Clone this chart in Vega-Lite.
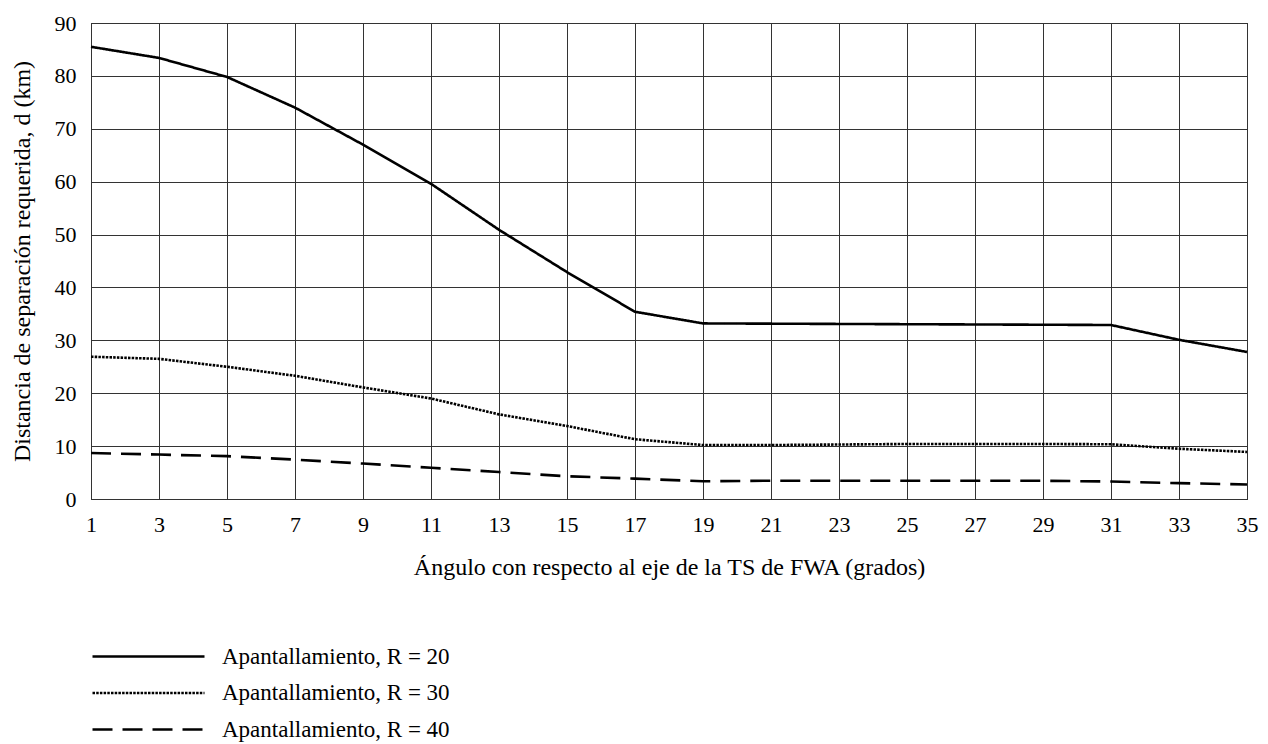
{
  "$schema": "https://vega.github.io/schema/vega-lite/v6.json",
  "width": 1156,
  "height": 476,
  "autosize": {"type": "none"},
  "padding": {"left": 91, "top": 23, "right": 21, "bottom": 245},
  "background": "white",
  "config": {
    "font": "Liberation Serif",
    "view": {"stroke": "#000", "strokeWidth": 1},
    "axis": {
      "domain": false,
      "ticks": false,
      "tickSize": 0,
      "grid": true,
      "gridColor": "#333",
      "gridWidth": 1,
      "gridOpacity": 1,
      "labelFont": "Liberation Serif",
      "labelFontSize": 22,
      "labelColor": "#000",
      "titleFont": "Liberation Serif",
      "titleFontSize": 24,
      "titleFontWeight": "normal",
      "titleColor": "#000"
    },
    "legend": {
      "labelFont": "Liberation Serif",
      "labelFontSize": 23,
      "labelColor": "#000",
      "labelLimit": 500
    }
  },
  "data": {
    "values": [
      {"angulo": 1, "d": 85.5, "serie": "Apantallamiento, R = 20"},
      {"angulo": 3, "d": 83.4, "serie": "Apantallamiento, R = 20"},
      {"angulo": 5, "d": 79.8, "serie": "Apantallamiento, R = 20"},
      {"angulo": 7, "d": 74.0, "serie": "Apantallamiento, R = 20"},
      {"angulo": 9, "d": 67.0, "serie": "Apantallamiento, R = 20"},
      {"angulo": 11, "d": 59.6, "serie": "Apantallamiento, R = 20"},
      {"angulo": 13, "d": 50.9, "serie": "Apantallamiento, R = 20"},
      {"angulo": 15, "d": 42.9, "serie": "Apantallamiento, R = 20"},
      {"angulo": 17, "d": 35.4, "serie": "Apantallamiento, R = 20"},
      {"angulo": 19, "d": 33.2, "serie": "Apantallamiento, R = 20"},
      {"angulo": 21, "d": 33.15, "serie": "Apantallamiento, R = 20"},
      {"angulo": 23, "d": 33.1, "serie": "Apantallamiento, R = 20"},
      {"angulo": 25, "d": 33.05, "serie": "Apantallamiento, R = 20"},
      {"angulo": 27, "d": 33.0, "serie": "Apantallamiento, R = 20"},
      {"angulo": 29, "d": 32.95, "serie": "Apantallamiento, R = 20"},
      {"angulo": 31, "d": 32.9, "serie": "Apantallamiento, R = 20"},
      {"angulo": 33, "d": 30.1, "serie": "Apantallamiento, R = 20"},
      {"angulo": 35, "d": 27.8, "serie": "Apantallamiento, R = 20"},
      {"angulo": 1, "d": 26.9, "serie": "Apantallamiento, R = 30"},
      {"angulo": 3, "d": 26.5, "serie": "Apantallamiento, R = 30"},
      {"angulo": 5, "d": 25.0, "serie": "Apantallamiento, R = 30"},
      {"angulo": 7, "d": 23.3, "serie": "Apantallamiento, R = 30"},
      {"angulo": 9, "d": 21.1, "serie": "Apantallamiento, R = 30"},
      {"angulo": 11, "d": 19.0, "serie": "Apantallamiento, R = 30"},
      {"angulo": 13, "d": 16.0, "serie": "Apantallamiento, R = 30"},
      {"angulo": 15, "d": 13.8, "serie": "Apantallamiento, R = 30"},
      {"angulo": 17, "d": 11.3, "serie": "Apantallamiento, R = 30"},
      {"angulo": 19, "d": 10.2, "serie": "Apantallamiento, R = 30"},
      {"angulo": 21, "d": 10.2, "serie": "Apantallamiento, R = 30"},
      {"angulo": 23, "d": 10.3, "serie": "Apantallamiento, R = 30"},
      {"angulo": 25, "d": 10.4, "serie": "Apantallamiento, R = 30"},
      {"angulo": 27, "d": 10.4, "serie": "Apantallamiento, R = 30"},
      {"angulo": 29, "d": 10.4, "serie": "Apantallamiento, R = 30"},
      {"angulo": 31, "d": 10.35, "serie": "Apantallamiento, R = 30"},
      {"angulo": 33, "d": 9.5, "serie": "Apantallamiento, R = 30"},
      {"angulo": 35, "d": 8.9, "serie": "Apantallamiento, R = 30"},
      {"angulo": 1, "d": 8.7, "serie": "Apantallamiento, R = 40"},
      {"angulo": 3, "d": 8.4, "serie": "Apantallamiento, R = 40"},
      {"angulo": 5, "d": 8.1, "serie": "Apantallamiento, R = 40"},
      {"angulo": 7, "d": 7.45, "serie": "Apantallamiento, R = 40"},
      {"angulo": 9, "d": 6.7, "serie": "Apantallamiento, R = 40"},
      {"angulo": 11, "d": 5.9, "serie": "Apantallamiento, R = 40"},
      {"angulo": 13, "d": 5.1, "serie": "Apantallamiento, R = 40"},
      {"angulo": 15, "d": 4.3, "serie": "Apantallamiento, R = 40"},
      {"angulo": 17, "d": 3.85, "serie": "Apantallamiento, R = 40"},
      {"angulo": 19, "d": 3.35, "serie": "Apantallamiento, R = 40"},
      {"angulo": 21, "d": 3.45, "serie": "Apantallamiento, R = 40"},
      {"angulo": 23, "d": 3.45, "serie": "Apantallamiento, R = 40"},
      {"angulo": 25, "d": 3.45, "serie": "Apantallamiento, R = 40"},
      {"angulo": 27, "d": 3.45, "serie": "Apantallamiento, R = 40"},
      {"angulo": 29, "d": 3.45, "serie": "Apantallamiento, R = 40"},
      {"angulo": 31, "d": 3.3, "serie": "Apantallamiento, R = 40"},
      {"angulo": 33, "d": 3.0, "serie": "Apantallamiento, R = 40"},
      {"angulo": 35, "d": 2.75, "serie": "Apantallamiento, R = 40"}
    ]
  },
  "mark": {"type": "line", "color": "#000", "strokeWidth": 2.6},
  "encoding": {
    "x": {
      "field": "angulo",
      "type": "quantitative",
      "scale": {"domain": [1, 35], "nice": false, "zero": false},
      "axis": {
        "title": "Ángulo con respecto al eje de la TS de FWA (grados)",
        "values": [1, 3, 5, 7, 9, 11, 13, 15, 17, 19, 21, 23, 25, 27, 29, 31, 33, 35],
        "labelPadding": 15,
        "titlePadding": 20,
        "labelFlush": false
      }
    },
    "y": {
      "field": "d",
      "type": "quantitative",
      "scale": {"domain": [0, 90], "nice": false},
      "axis": {
        "title": "Distancia de separación requerida, d (km)",
        "values": [0, 10, 20, 30, 40, 50, 60, 70, 80, 90],
        "labelPadding": 15,
        "titlePadding": 20,
        "labelFlush": false
      }
    },
    "strokeDash": {
      "field": "serie",
      "type": "nominal",
      "scale": {
        "domain": ["Apantallamiento, R = 20", "Apantallamiento, R = 30", "Apantallamiento, R = 40"],
        "range": [[1, 0], [2.5, 1.2], [20, 10]]
      },
      "legend": {
        "title": null,
        "orient": "none",
        "legendX": 0,
        "legendY": 622,
        "direction": "vertical",
        "symbolType": "stroke",
        "symbolSize": 12544,
        "symbolStrokeWidth": 2.6,
        "symbolStrokeColor": "#000",
        "clipHeight": 23,
        "rowPadding": 12.5,
        "labelOffset": 16,
        "padding": 0
      }
    }
  }
}
